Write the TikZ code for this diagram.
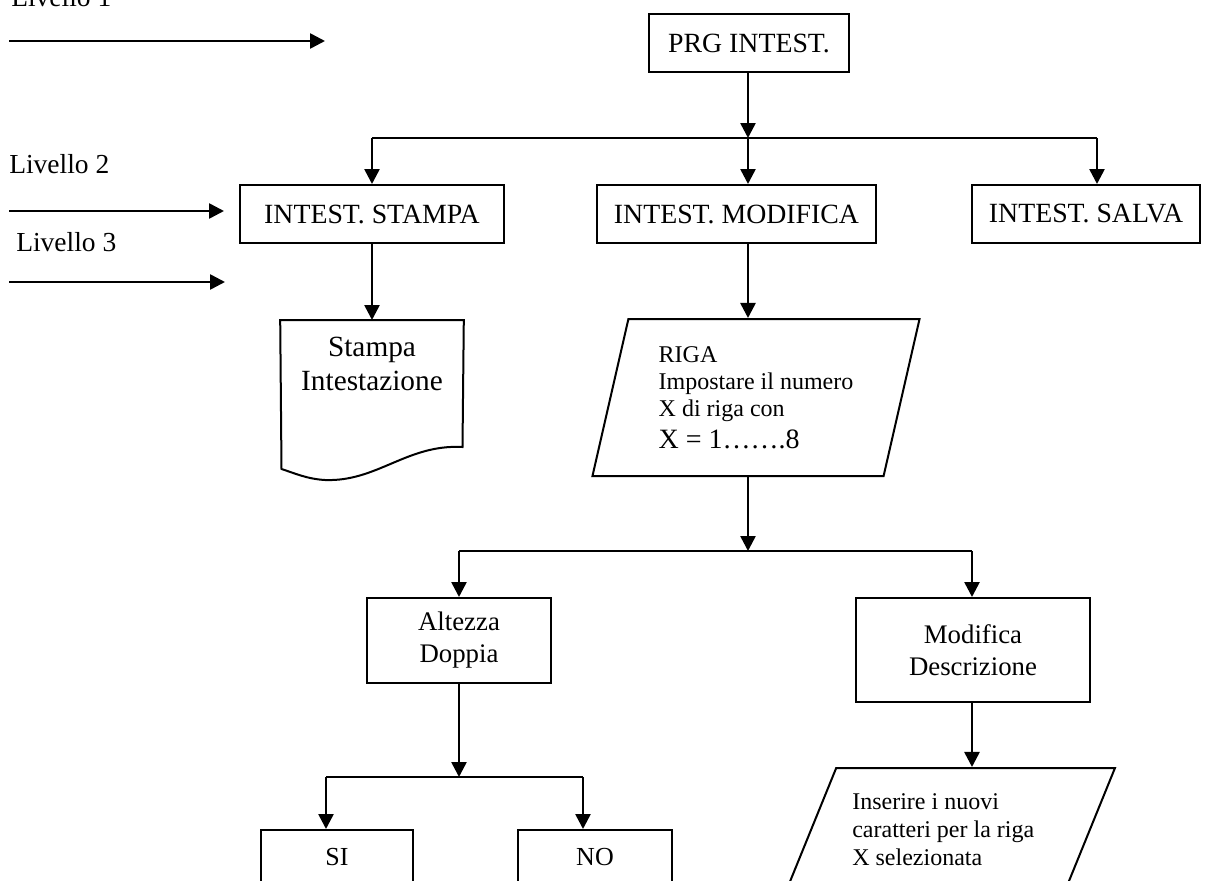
\documentclass[tikz,border=0pt]{standalone}
\usepackage{fontspec}
\setmainfont{Liberation Serif}
\usetikzlibrary{arrows.meta,positioning,shapes.geometric}

\begin{document}
\begin{tikzpicture}[x=1pt,y=-1pt,>={Triangle[length=15pt,width=15pt]},line width=2.6pt]
\tikzstyle{blk} = [rectangle,draw=black,line width=2pt,inner sep=0pt,align=center,font=\fontsize{27.8}{31}\selectfont]
\tikzstyle{para} = [trapezium,draw=black,line width=2pt,trapezium stretches=true,inner sep=0pt]
\tikzstyle{lvl} = [anchor=base west,inner sep=0pt,font=\fontsize{27.5}{30}\selectfont]
    \useasboundingbox (0,0) rectangle (1208,881);
    \clip (0,0) rectangle (1208,881);

    % livelli
    \node[lvl] (lv1) at (10,6) {Livello 1};
    \node[lvl] (lv2) at (8,173) {Livello 2};
    \node[lvl] (lv3) at (15,251) {Livello 3};
    \foreach \i/\y/\e in {1/41/325,2/211/224,3/282/225} {
        \coordinate (s\i) at (9,\y);
        \coordinate (e\i) at (\e,\y);
        \draw[->] (s\i) -- (e\i);
    }

    \node[blk,minimum width=200pt,minimum height=58pt] (prg) at (749,43) {PRG INTEST.};
    \node[blk,minimum width=264pt,minimum height=58pt] (istampa) at (372,214) {INTEST. STAMPA};
    \node[blk,minimum width=279pt,minimum height=58pt] (imod) at (736.5,214) {INTEST. MODIFICA};
    \node[blk,minimum width=228pt,minimum height=58pt] (isalva) at (1086,214) {INTEST. SALVA};

    \node[minimum width=181pt,inner xsep=0pt,inner ysep=16pt,align=center,font=\fontsize{29.3}{34}\selectfont] (stint) [below=76pt of istampa] {Stampa\\Intestazione};
    \node[para,trapezium left angle=75,trapezium right angle=105,minimum width=328pt,minimum height=157pt,align=left,font=\fontsize{24}{27}\selectfont] (riga) at (756,397.5) {RIGA\\Impostare il numero\\X di riga con\\[5pt]{\fontsize{28}{32}\selectfont X = 1…….8}};

    \node[blk,font=\fontsize{26.8}{32}\selectfont,minimum width=184pt,minimum height=85pt] (altd) at (459,640.5) {Altezza\\Doppia};
    \node[blk,font=\fontsize{26.8}{32}\selectfont,minimum width=234pt,minimum height=104pt] (moddes) at (973,650) {Modifica\\Descrizione};

    \node[blk,font=\fontsize{26}{30}\selectfont,minimum width=152pt,minimum height=54pt] (si) at (337,857) {SI};
    \node[blk,font=\fontsize{26}{30}\selectfont,minimum width=154pt,minimum height=54pt] (no) at (595,857) {NO};

    \node[para,trapezium left angle=70,trapezium right angle=110,minimum width=348pt,minimum height=170pt] (ins) at (941,853) {\phantom{X}};
    \node[anchor=north west,inner sep=0pt,align=left,font=\fontsize{24}{28}\selectfont] (instxt) at (851,792) {Inserire i nuovi\\caratteri per la riga\\X selezionata};

    % foglio stampato
    \draw[line width=2pt] (stint.north west) -- (stint.north east) -- (462.5,447)
        .. controls (407,444) and (377,482) .. (325,480)
        .. controls (307,479) and (294,473) .. (281.5,469) -- cycle;

    \coordinate (j1) at (748,138);
    \coordinate (j1l) at (372,138);
    \coordinate (j1r) at (1097,138);
    \coordinate (j2) at (748,551);
    \coordinate (j2l) at (459,551);
    \coordinate (j2r) at (972,551);
    \coordinate (j3) at (459,777);
    \coordinate (j3l) at (326,777);
    \coordinate (j3r) at (583,777);

    \tikzset{conn/.style={->}}
    \draw (prg.south -| j1) edge[conn] (j1);
    \draw (j1l) -- (j1r);
    \draw (j1l) edge[conn] (istampa.north);
    \draw (j1) edge[conn] (imod.north -| j1);
    \draw (j1r) edge[conn] (isalva.north -| j1r);
    \draw (istampa.south) edge[conn] (stint.north);
    \draw (imod.south -| j1) edge[conn] (riga.north -| j1);

    \draw (riga.south -| j2) edge[conn] (j2);
    \draw (j2l) -- (j2r);
    \draw (j2l) edge[conn] (altd.north);
    \draw (j2r) edge[conn] (moddes.north -| j2r);

    \draw (altd.south) edge[conn] (j3);
    \draw (j3l) -- (j3r);
    \draw (j3l) edge[conn] (si.north -| j3l);
    \draw (j3r) edge[conn] (no.north -| j3r);
    \draw (moddes.south -| j2r) edge[conn] (ins.north -| j2r);
\end{tikzpicture}
\end{document}
